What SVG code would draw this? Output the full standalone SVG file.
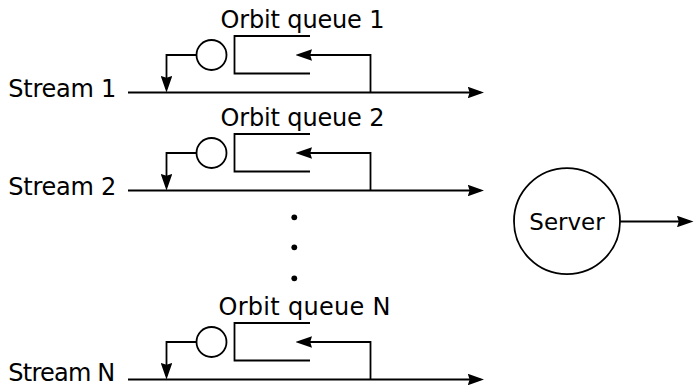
<svg xmlns="http://www.w3.org/2000/svg" width="696" height="386" viewBox="0 0 696 386">
<defs>
<style>
.ln{fill:none;stroke:#000;stroke-width:1.8}
.txt{font-family:"DejaVu Sans","Liberation Sans",sans-serif;font-size:24px;fill:#000}
.arr{marker-end:url(#ah)}
</style>
<marker id="ah" viewBox="0 0 16.5 11.5" refX="12.5" refY="5.75" markerWidth="16.5" markerHeight="11.5" orient="auto" markerUnits="userSpaceOnUse">
<path d="M0,0 L16.5,5.75 L0,11.5 L1.8,5.75 Z" fill="#000"/>
</marker>
</defs>
<rect width="696" height="386" fill="#fff"/>

<g id="stream1">
<text class="txt" x="8.3" y="96.5" textLength="108" lengthAdjust="spacing">Stream 1</text>
</g>
<g id="orbit1">
<text class="txt" x="220.5" y="27.5" textLength="164" lengthAdjust="spacing">Orbit queue 1</text>
<path class="ln" d="M310,36 H234.5 V73.5 H310"/>
<circle class="ln" cx="211.5" cy="55" r="15"/>
</g>

<g id="stream2">
<text class="txt" x="8.3" y="194.5" textLength="108" lengthAdjust="spacing">Stream 2</text>
</g>
<g id="orbit2">
<text class="txt" x="220.5" y="125.5" textLength="164" lengthAdjust="spacing">Orbit queue 2</text>
<path class="ln" d="M310,134 H234.5 V171.5 H310"/>
<circle class="ln" cx="211.5" cy="153" r="15"/>
</g>

<g id="streamN">
<text class="txt" x="8.3" y="380.5" textLength="107" lengthAdjust="spacing">Stream N</text>
</g>
<g id="orbitN">
<text class="txt" x="218.5" y="314.5" textLength="172" lengthAdjust="spacing">Orbit queue N</text>
<path class="ln" d="M310,323 H234.5 V360.5 H310"/>
<circle class="ln" cx="211.5" cy="342" r="15"/>
</g>

<g id="ellipsis">
<circle cx="294.3" cy="217.3" r="2.9" fill="#000"/>
<circle cx="294.3" cy="247.3" r="2.9" fill="#000"/>
<circle cx="294.3" cy="278.3" r="2.9" fill="#000"/>
</g>

<g id="server">
<circle class="ln" cx="567" cy="221.2" r="53"/>
<text class="txt" x="567" y="229.5" text-anchor="middle" style="font-size:23px">Server</text>
</g>

<g id="connectors">
<path class="ln arr" d="M128,92.5 H480.3"/>
<path class="ln arr" d="M196.5,55 H166.5 V88.5"/>
<path class="ln arr" d="M370.5,92.5 V55 H299.5"/>

<path class="ln arr" d="M128,190.5 H480.3"/>
<path class="ln arr" d="M196.5,153 H166.5 V186.5"/>
<path class="ln arr" d="M370.5,190.5 V153 H299.5"/>

<path class="ln arr" d="M128,379.5 H480.3"/>
<path class="ln arr" d="M196.5,342 H166.5 V375.5"/>
<path class="ln arr" d="M370.5,379.5 V342 H299.5"/>

<path class="ln arr" d="M620,221.5 H689.5"/>
</g>
</svg>
